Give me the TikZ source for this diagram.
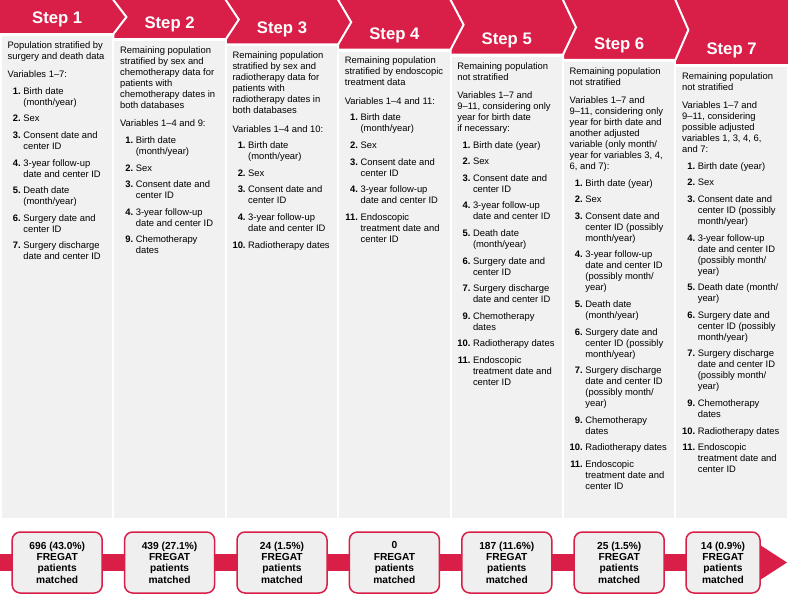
\documentclass[tikz,border=0pt]{standalone}
\usepackage{fontspec}
\setmainfont{Liberation Sans}

\definecolor{stepred}{HTML}{D91E48}
\definecolor{panelgray}{HTML}{F1F1F1}
\definecolor{boxgray}{HTML}{EFEFEF}

% numbered variable and continuation line
\newcommand{\itm}[1]{\makebox[13.1pt][r]{\textbf{#1}}\hspace*{2.6pt}}
\newcommand{\cnt}{\hspace*{15.7pt}}

\begin{document}
\begin{tikzpicture}[x=1pt, y=-1pt,
    chevron/.style={fill=stepred, draw=white, line width=2pt, line join=miter},
    steplabel/.style={text=white, inner sep=0pt, font=\fontsize{16.7}{20}\selectfont\bfseries},
    paneltext/.style={anchor=north west, inner sep=0pt, align=left, font=\fontsize{9.4}{11}\selectfont},
    matchbox/.style={draw=stepred, line width=1.5pt, fill=boxgray, rounded corners=8pt,
        minimum width=90pt, minimum height=61pt, inner sep=0pt, align=center,
        font=\fontsize{10.2}{11.4}\selectfont\bfseries}]
    \useasboundingbox (0,0) rectangle (788,595);

    % Frecce dei passi (dall'ultima alla prima)
    \foreach \i in {7,6,...,1} {
        \pgfmathsetmacro{\h}{34+5.17*(\i-1)}
        \pgfmathsetmacro{\xa}{\i==1 ? -3 : 1+112.4*(\i-1)}
        \pgfmathsetmacro{\xb}{1+112.4*\i}
        \ifnum\i=7
            \filldraw[chevron] (\xa,-3) rectangle (791,\h);
        \else
            \filldraw[chevron] (\xa,-3) -- (\xb,-3) -- (\xb,0) -- (\xb+13,\h/2) -- (\xb,\h) -- (\xa,\h) -- cycle;
        \fi
        % pannello grigio
        \fill[panelgray] (2+112.4*\i-112.4,\h+2) rectangle (112.4+112.4*\i-112.4,518);
    }
    \foreach \i in {1,...,7} {
        \node[steplabel] (s\i) at (57.2+112.4*\i-112.4, 19+5.3*\i-5.3) {Step \i};
    }

    % Testi delle colonne
    \node[paneltext] (t1) at (7.5,41.4) {Population stratified by\\ surgery and death data\\[7.3pt]
        Variables 1–7:\\[5.6pt]
        \itm{1.}Birth date\\ \cnt(month/year)\\[5.6pt]
        \itm{2.}Sex\\[5.6pt]
        \itm{3.}Consent date and\\ \cnt center ID\\[5.6pt]
        \itm{4.}3-year follow-up\\ \cnt date and center ID\\[5.6pt]
        \itm{5.}Death date\\ \cnt(month/year)\\[5.6pt]
        \itm{6.}Surgery date and\\ \cnt center ID\\[5.6pt]
        \itm{7.}Surgery discharge\\ \cnt date and center ID};

    \node[paneltext] (t2) at (119.9,46.6) {Remaining population\\ stratified by sex and\\ chemotherapy data for\\ patients with\\ chemotherapy dates in\\ both databases\\[7.3pt]
        Variables 1–4 and 9:\\[5.6pt]
        \itm{1.}Birth date\\ \cnt(month/year)\\[5.6pt]
        \itm{2.}Sex\\[5.6pt]
        \itm{3.}Consent date and\\ \cnt center ID\\[5.6pt]
        \itm{4.}3-year follow-up\\ \cnt date and center ID\\[5.6pt]
        \itm{9.}Chemotherapy\\ \cnt dates};

    \node[paneltext] (t3) at (232.3,51.7) {Remaining population\\ stratified by sex and\\ radiotherapy data for\\ patients with\\ radiotherapy dates in\\ both databases\\[7.3pt]
        Variables 1–4 and 10:\\[5.6pt]
        \itm{1.}Birth date\\ \cnt(month/year)\\[5.6pt]
        \itm{2.}Sex\\[5.6pt]
        \itm{3.}Consent date and\\ \cnt center ID\\[5.6pt]
        \itm{4.}3-year follow-up\\ \cnt date and center ID\\[5.6pt]
        \itm{10.}Radiotherapy dates};

    \node[paneltext] (t4) at (344.7,56.9) {Remaining population\\ stratified by endoscopic\\ treatment data\\[7.3pt]
        Variables 1–4 and 11:\\[5.6pt]
        \itm{1.}Birth date\\ \cnt(month/year)\\[5.6pt]
        \itm{2.}Sex\\[5.6pt]
        \itm{3.}Consent date and\\ \cnt center ID\\[5.6pt]
        \itm{4.}3-year follow-up\\ \cnt date and center ID\\[5.6pt]
        \itm{11.}Endoscopic\\ \cnt treatment date and\\ \cnt center ID};

    \node[paneltext] (t5) at (457.1,62.1) {Remaining population\\ not stratified\\[7.3pt]
        Variables 1–7 and\\ 9–11, considering only\\ year for birth date\\ if necessary:\\[5.6pt]
        \itm{1.}Birth date (year)\\[5.6pt]
        \itm{2.}Sex\\[5.6pt]
        \itm{3.}Consent date and\\ \cnt center ID\\[5.6pt]
        \itm{4.}3-year follow-up\\ \cnt date and center ID\\[5.6pt]
        \itm{5.}Death date\\ \cnt(month/year)\\[5.6pt]
        \itm{6.}Surgery date and\\ \cnt center ID\\[5.6pt]
        \itm{7.}Surgery discharge\\ \cnt date and center ID\\[5.6pt]
        \itm{9.}Chemotherapy\\ \cnt dates\\[5.6pt]
        \itm{10.}Radiotherapy dates\\[5.6pt]
        \itm{11.}Endoscopic\\ \cnt treatment date and\\ \cnt center ID};

    \node[paneltext] (t6) at (569.5,67.2) {Remaining population\\ not stratified\\[7.3pt]
        Variables 1–7 and\\ 9–11, considering only\\ year for birth date and\\ another adjusted\\ variable (only month/\\ year for variables 3, 4,\\ 6, and 7):\\[5.6pt]
        \itm{1.}Birth date (year)\\[5.6pt]
        \itm{2.}Sex\\[5.6pt]
        \itm{3.}Consent date and\\ \cnt center ID (possibly\\ \cnt month/year)\\[5.6pt]
        \itm{4.}3-year follow-up\\ \cnt date and center ID\\ \cnt(possibly month/\\ \cnt year)\\[5.6pt]
        \itm{5.}Death date\\ \cnt(month/year)\\[5.6pt]
        \itm{6.}Surgery date and\\ \cnt center ID (possibly\\ \cnt month/year)\\[5.6pt]
        \itm{7.}Surgery discharge\\ \cnt date and center ID\\ \cnt(possibly month/\\ \cnt year)\\[5.6pt]
        \itm{9.}Chemotherapy\\ \cnt dates\\[5.6pt]
        \itm{10.}Radiotherapy dates\\[5.6pt]
        \itm{11.}Endoscopic\\ \cnt treatment date and\\ \cnt center ID};

    \node[paneltext] (t7) at (681.9,72.4) {Remaining population\\ not stratified\\[7.3pt]
        Variables 1–7 and\\ 9–11, considering\\ possible adjusted\\ variables 1, 3, 4, 6,\\ and 7:\\[5.6pt]
        \itm{1.}Birth date (year)\\[5.6pt]
        \itm{2.}Sex\\[5.6pt]
        \itm{3.}Consent date and\\ \cnt center ID (possibly\\ \cnt month/year)\\[5.6pt]
        \itm{4.}3-year follow-up\\ \cnt date and center ID\\ \cnt(possibly month/\\ \cnt year)\\[5.6pt]
        \itm{5.}Death date (month/\\ \cnt year)\\[5.6pt]
        \itm{6.}Surgery date and\\ \cnt center ID (possibly\\ \cnt month/year)\\[5.6pt]
        \itm{7.}Surgery discharge\\ \cnt date and center ID\\ \cnt(possibly month/\\ \cnt year)\\[5.6pt]
        \itm{9.}Chemotherapy\\ \cnt dates\\[5.6pt]
        \itm{10.}Radiotherapy dates\\[5.6pt]
        \itm{11.}Endoscopic\\ \cnt treatment date and\\ \cnt center ID};

    % Barra con freccia in basso
    \fill[stepred] (-1,554) rectangle (760.5,571);
    \fill[stepred] (760,545) -- (787,562.5) -- (760,580) -- cycle;

    % Pazienti abbinati
    \foreach \i/\n in {1/{696 (43.0\%)}, 2/{439 (27.1\%)}, 3/{24 (1.5\%)}, 4/{0}, 5/{187 (11.6\%)}, 6/{25 (1.5\%)}} {
        \node[matchbox] (m\i) at (57.2+112.4*\i-112.4, 562.5) {\n\\ FREGAT\\ patients\\ matched};
    }
    \node[matchbox, minimum width=74pt] (m7) at (723,562.5) {14 (0.9\%)\\ FREGAT\\ patients\\ matched};
\end{tikzpicture}
\end{document}
